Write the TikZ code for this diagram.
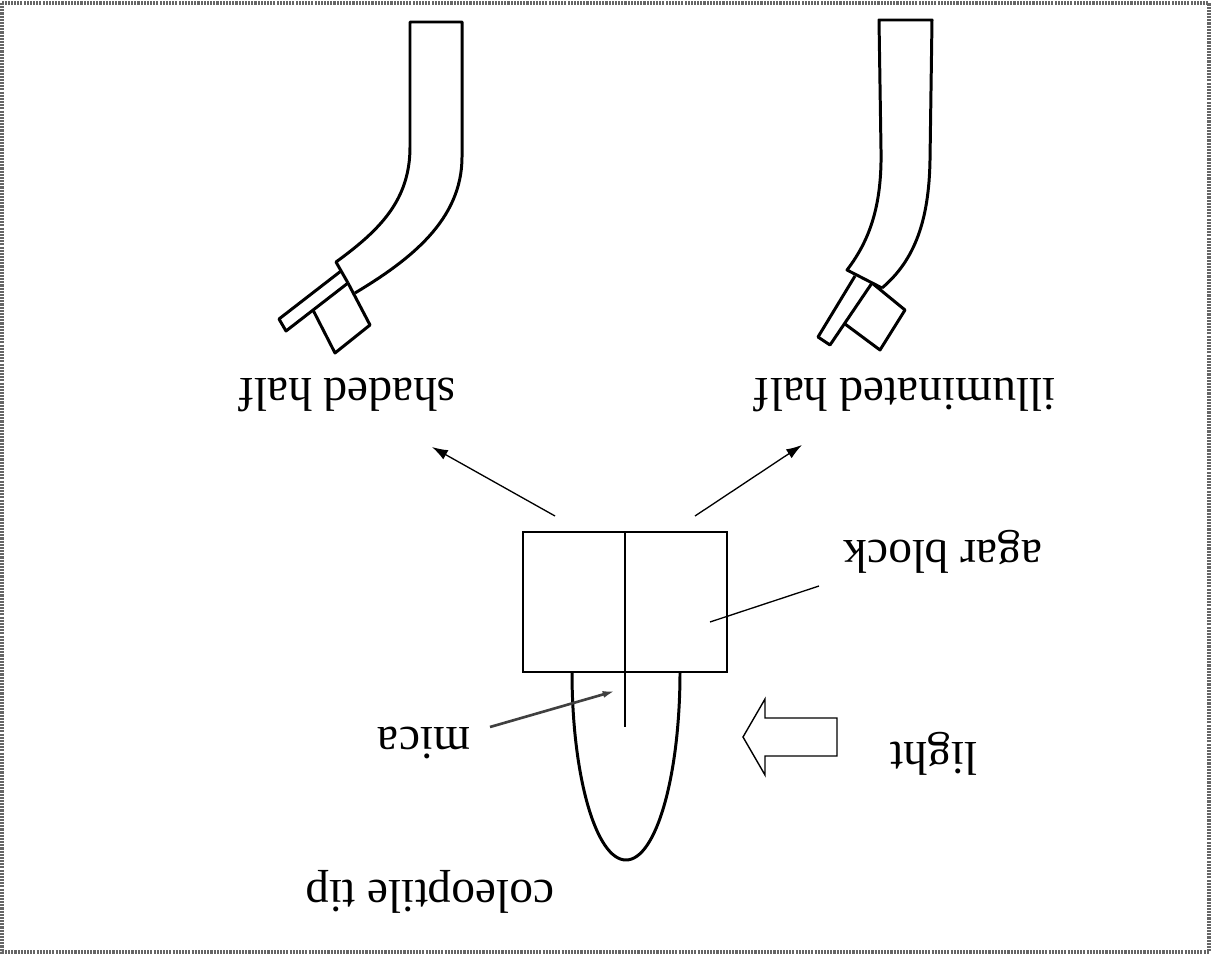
\documentclass[tikz,border=0pt]{standalone}
\usepackage{fontspec}
\setmainfont{Liberation Serif}
\usetikzlibrary{arrows.meta}
\tikzset{
  updown/.style={rotate=180, anchor=base, inner sep=0pt, font=\fontsize{27}{32}\selectfont},
  shoot/.style={line width=1.7pt, line join=round},
  pointer/.style={line width=0.75pt, -{Latex[length=9pt,width=6pt]}},
  frame/.style={line width=1.8pt, black!60, dash pattern=on 1.2pt off 0.6pt},
}

\begin{document}
\begin{tikzpicture}[x=0.02cm, y=-0.02cm, >=Latex]
\useasboundingbox (0,0) rectangle (1213,956);
% scanned page edge
\draw[frame] (2,3) rectangle (1209,952);

% agar block with the mica sheet through it
\draw[line width=0.7pt] (523,532) rectangle (727,672);
\draw[shoot] (572,672) .. controls (572,776) and (596,860) .. (626,860)
  .. controls (656,860) and (680,776) .. (680,672);
\coordinate (micatop) at (625,532);
\coordinate (micaend) at (625,727);
\draw[line width=1.4pt] (micatop) -- (micaend);

% light from the right
\draw[line width=0.8pt, line join=miter] (743,737) -- (765,699) -- (765,718) -- (837,718)
  -- (837,756) -- (765,756) -- (765,775) -- cycle;

% labels
\node[updown] (tip) at (430,880) {coleoptile tip};
\node[updown] (mica) at (424,727) {mica};
\node[updown] (light) at (934,742) {light};
\node[updown] (agar) at (943,540) {agar block};
\node[updown] (shaded) at (347,378) {shaded half};
\node[updown] (lit) at (905,378) {illuminated half};

% pointers
\coordinate (micafrom) at (490,727);
\coordinate (micapt) at (615,691);
\draw[line width=1.5pt, black!75, -{Latex[length=7pt,width=4pt]}] (micafrom) -- (micapt);
\coordinate (agarin) at (710,622);
\coordinate (agarout) at (819,586);
\draw[line width=0.75pt] (agarin) -- (agarout);
\coordinate (blockL) at (555,516);
\coordinate (blockR) at (695,516);
\coordinate (toshaded) at (432,447);
\coordinate (tolit) at (802,445);
\draw[pointer] (blockL) -- (toshaded);
\draw[pointer] (blockR) -- (tolit);

% shoot given the shaded half
\draw[shoot] (355,293) .. controls (410,260) and (462,220) .. (462,157) -- (462,22)
  -- (410,22) -- (410,147) .. controls (410,200) and (380,230) .. (336,262) -- (348,283);
\draw[shoot] (341,271) -- (279,319) -- (286,331) -- (348,283);
\draw[shoot] (348,283) -- (370,325) -- (335,353) -- (313,310);

% shoot given the illuminated half
\draw[shoot] (882,288) .. controls (915,260) and (929,220) .. (930,160) -- (932,20)
  -- (879,20) -- (881,150) .. controls (882,205) and (870,240) .. (847,270) -- (882,288);
\draw[shoot] (855,276) -- (818,337) -- (830,345) -- (872,283);
\draw[shoot] (872,283) -- (905,310) -- (880,350) -- (845,324);
\end{tikzpicture}
\end{document}
